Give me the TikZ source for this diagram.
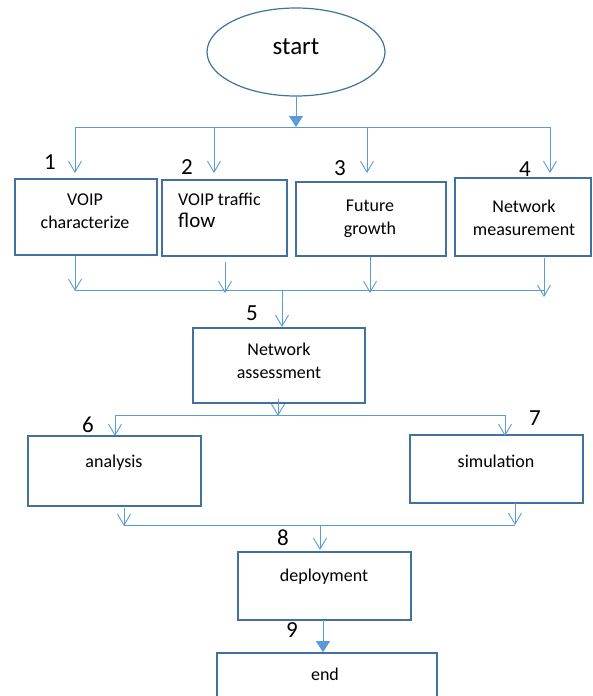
\documentclass[tikz,border=0pt]{standalone}
\usepackage{fontspec}
\setmainfont{Carlito}
\usetikzlibrary{arrows.meta,shapes.geometric}
\definecolor{boxblue}{HTML}{41719C}
\definecolor{linkblue}{HTML}{5B9BD5}
\tikzset{
  box/.style={draw=boxblue, line width=1.6pt, rectangle, inner sep=0pt},
  txt/.style={font=\fontsize{18}{23}\selectfont, align=center, inner sep=0pt},
  num/.style={font=\fontsize{23}{26}\selectfont, inner sep=0pt},
  link/.style={draw=linkblue, line width=0.9pt},
  openarr/.style={link, -{Straight Barb[length=11pt,width=13pt,line width=0.9pt]}},
  fillarr/.style={link, -{Triangle[length=11pt,width=14pt,fill=linkblue]}},
}
\begin{document}
\begin{tikzpicture}[x=1pt,y=-1pt]
\useasboundingbox (0,0) rectangle (592,696);
% start
\node[ellipse, draw=boxblue, line width=1.2pt, minimum width=178pt, minimum height=88pt, inner sep=0pt] (start) at (296,52) {};
\node[font=\fontsize{25}{28}\selectfont, inner sep=0pt] (starttxt) at (296,47) {start};
% boxes row 1
\node[box, minimum width=142pt, minimum height=76pt] (b1) at (86,217) {};
\node[box, minimum width=125pt, minimum height=76pt] (b2) at (224.5,218) {};
\node[box, minimum width=150pt, minimum height=74pt] (b3) at (371,219) {};
\node[box, minimum width=136pt, minimum height=78pt] (b4) at (523,217) {};
\node[txt] (t1) at (85,211) {VOIP\\characterize};
\node[txt, align=left, anchor=west] (t2) at (178,210) {VOIP traffic\\[-1pt]{\fontsize{21}{23}\selectfont flow}};
\node[txt] (t3) at (370,219) {Future\\growth};
\node[txt] (t4) at (524,218) {Network\\measurement};
\node[num] (n1) at (50,162) {1};
\node[num] (n2) at (187,167) {2};
\node[num] (n3) at (340,168) {3};
\node[num] (n4) at (525,169) {4};
% box 5
\node[box, minimum width=172pt, minimum height=75pt] (b5) at (279,365.5) {};
\node[txt] (t5) at (279,361) {Network\\assessment};
\node[num] (n5) at (252,313) {5};
% boxes 6, 7
\node[box, minimum width=173pt, minimum height=70pt] (b6) at (114.5,471) {};
\node[txt] (t6) at (114,463) {analysis};
\node[box, minimum width=173pt, minimum height=68pt] (b7) at (496.5,469) {};
\node[txt] (t7) at (496,461) {simulation};
\node[num] (n6) at (88,425) {6};
\node[num] (n7) at (535,418) {7};
% box 8
\node[box, minimum width=173pt, minimum height=68pt] (b8) at (324.5,586) {};
\node[txt] (t8) at (324,577) {deployment};
\node[num] (n8) at (283,538) {8};
\node[num] (n9) at (292,630) {9};
% end
\node[box, minimum width=220pt, minimum height=56pt] (b9) at (327,681) {};
\node[txt] (t9) at (325,674) {end};
% coordinates for buses
\coordinate (bus1) at (296,127);
\coordinate (bus1l) at (75,127);
\coordinate (bus1r) at (550,127);
\coordinate (a1) at (75,173);
\coordinate (a2) at (214,173);
\coordinate (a3) at (367,173);
\coordinate (a4) at (550,173);
\coordinate (bus2l) at (75,290);
\coordinate (bus2r) at (544,290);
\coordinate (bus2m) at (282,290);
\coordinate (a5) at (282,327);
\coordinate (d1) at (75,256);
\coordinate (d2) at (225,262);
\coordinate (d3) at (370,257);
\coordinate (d4) at (544,258);
\coordinate (u1) at (75,291);
\coordinate (u2) at (225,293);
\coordinate (u3) at (370,293);
\coordinate (u4) at (544,297);
\coordinate (d5) at (278,399);
\coordinate (bus3m) at (278,416);
\coordinate (bus3l) at (115,415);
\coordinate (bus3r) at (505,415);
\coordinate (a6) at (115,436);
\coordinate (a7) at (505,436);
\coordinate (d6) at (124,508);
\coordinate (d7) at (515,503);
\coordinate (u6) at (124,526);
\coordinate (u7) at (515,525);
\coordinate (bus4l) at (124,525);
\coordinate (bus4r) at (515,525);
\coordinate (bus4m) at (320,525);
\coordinate (a8) at (320,550);
\coordinate (d8) at (323,620);
% connectors
\draw[fillarr] (start.south) -- (bus1);
\draw[link] (bus1l) -- (bus1r);
\draw[openarr] (bus1l) -- (a1);
\draw[openarr] (bus1 -| a2) -- (a2);
\draw[openarr] (bus1 -| a3) -- (a3);
\draw[openarr] (bus1r) -- (a4);
\draw[openarr] (d1) -- (u1);
\draw[openarr] (d2) -- (u2);
\draw[openarr] (d3) -- (u3);
\draw[openarr] (d4) -- (u4);
\draw[link] (bus2l) -- (bus2r);
\draw[openarr] (bus2m) -- (a5);
\draw[openarr] (d5) -- (bus3m);
\draw[link] (bus3l) -- (bus3r);
\draw[openarr] (bus3l) -- (a6);
\draw[openarr] (bus3r) -- (a7);
\draw[openarr] (d6) -- (u6);
\draw[openarr] (d7) -- (u7);
\draw[link] (bus4l) -- (bus4r);
\draw[openarr] (bus4m) -- (a8);
\draw[fillarr] (d8) -- (d8 |- b9.north);
\end{tikzpicture}
\end{document}
